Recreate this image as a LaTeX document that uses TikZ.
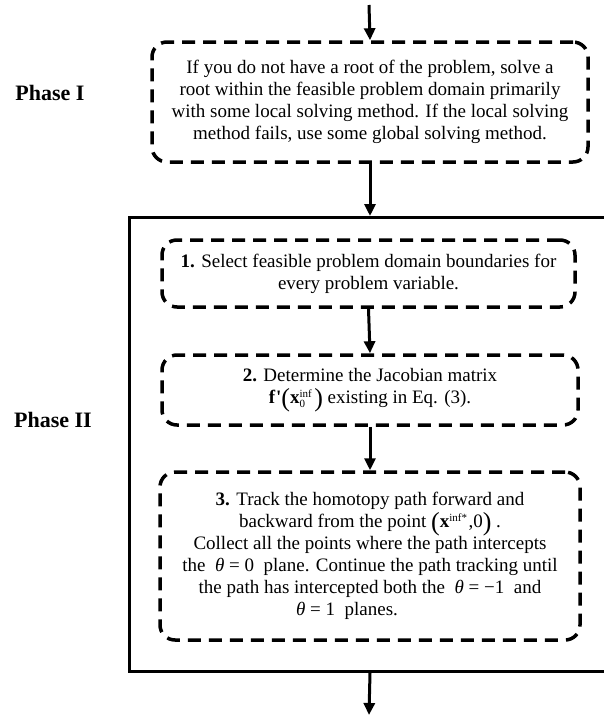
\documentclass[tikz,border=0pt]{standalone}
\usepackage{fontspec}
\setmainfont{Liberation Serif}
\usetikzlibrary{arrows.meta}
\newcommand{\sm}[1]{\hbox{\fontsize{11}{11}\selectfont #1}}
\newcommand{\thq}{\textit{θ}}
\newcommand{\bp}[1]{\raisebox{-2.5pt}{\fontsize{26}{26}\selectfont #1}}
\begin{document}
\begin{tikzpicture}[x=1pt,y=1pt,
  txt/.style={font=\fontsize{19}{22}\selectfont, align=center},
  dbox/.style={draw, line width=3.5pt, dash pattern=on 13pt off 8pt, rounded corners=15pt, txt, inner sep=0pt},
  arr/.style={line width=3pt, -{Triangle[length=12pt,width=11pt]}},
  lab/.style={font=\fontsize{22}{24}\selectfont\bfseries}
]
\useasboundingbox (0,0) rectangle (604,-715);
\clip (0,0) rectangle (604,-715);
\node[draw, line width=3pt, minimum width=500pt, minimum height=454pt, anchor=north west, inner sep=0pt] (outer) at (128,-216) {};
\node[dbox, minimum width=436pt, minimum height=120pt] (p1) at (370,-102) {If you do not have a root of the problem, solve a\\ root within the feasible problem domain primarily\\ with some local solving method. If the local solving\\ method fails, use some global solving method.};
\node[dbox, minimum width=413pt, minimum height=67pt] (s1) at (368.5,-273.5) {\textbf{1.} Select feasible problem domain boundaries for\\ every problem variable.};
\node[dbox, minimum width=416pt, minimum height=70pt] (s2) at (370,-390) {\textbf{2.} Determine the Jacobian matrix\\ \textbf{f\kern1pt\textquotesingle}\bp{(}$\hbox{\textbf{x}}^{\sm{inf}}_{\sm{0}}$\kern2pt\bp{)} existing in Eq. (3).};
\node[dbox, minimum width=420pt, minimum height=168pt] (s3) at (370,-556) {\textbf{3.} Track the homotopy path forward and\\ backward from the point \bp{(}$\hbox{\textbf{x}}^{\sm{inf*}}$\kern1pt,0\bp{)} .\\ Collect all the points where the path intercepts\\ the~ \thq~=~0~ plane. Continue the path tracking until\\ the path has intercepted both the~ \thq~=~−1~ and\\ \thq~=~1~ planes.\hspace*{46pt}};
\node[lab] (ph1) at (50,-93) {Phase I};
\node[lab] (ph2) at (53,-420) {Phase II};
\coordinate (top) at (369,-5);
\coordinate (bot) at (369,-715);
\draw[arr] (top) -- (p1.north);
\draw[arr] (p1.south) -- (outer.north -| p1.south);
\draw[arr] (s1.south) -- (s2.north);
\draw[arr] (s2.south) -- (s3.north);
\draw[arr] (outer.south -| s3.south) -- (bot);
\end{tikzpicture}
\end{document}
